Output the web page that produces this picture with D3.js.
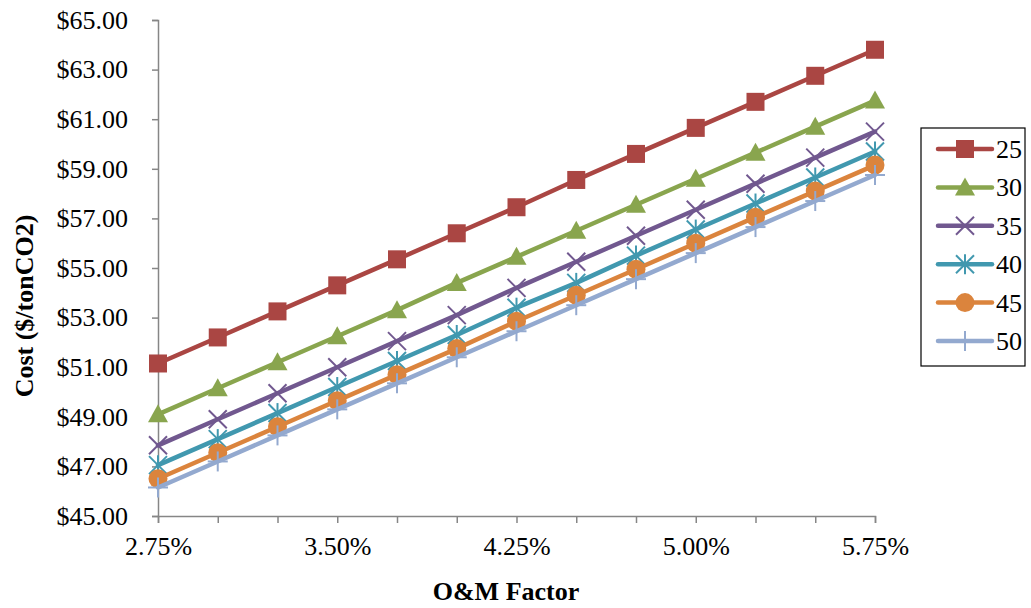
<!DOCTYPE html>
<html>
<head>
<meta charset="utf-8">
<script src="https://cdn.jsdelivr.net/npm/d3@7"></script>
<style>
  html, body { margin: 0; padding: 0; background: #fff; }
  svg { display: block; }
  text { font-family: "Liberation Serif", "Times New Roman", serif; fill: #000; }
</style>
</head>
<body>
<svg id="chart" width="1031" height="608"></svg>
<script>
// O&M factor (%) on the x axis
const omFactors = [2.75, 3.00, 3.25, 3.50, 3.75, 4.00, 4.25, 4.50, 4.75, 5.00, 5.25, 5.50, 5.75];
const xTickLabels = [2.75, 3.50, 4.25, 5.00, 5.75];
const yTicks = [45, 47, 49, 51, 53, 55, 57, 59, 61, 63, 65];

// Cost ($/tonCO2) for each series
const seriesNames = ["25", "30", "35", "40", "45", "50"];
const cost25 = [51.15, 52.20, 53.25, 54.30, 55.35, 56.40, 57.45, 58.55, 59.60, 60.65, 61.70, 62.75, 63.80];
const cost30 = [49.10, 50.15, 51.20, 52.25, 53.30, 54.40, 55.45, 56.50, 57.55, 58.60, 59.65, 60.70, 61.75];
const cost35 = [47.85, 48.90, 49.95, 51.00, 52.05, 53.10, 54.20, 55.25, 56.30, 57.35, 58.40, 59.45, 60.50];
const cost40 = [47.05, 48.10, 49.15, 50.20, 51.25, 52.30, 53.40, 54.40, 55.50, 56.55, 57.60, 58.65, 59.70];
const cost45 = [46.50, 47.55, 48.60, 49.65, 50.70, 51.75, 52.85, 53.90, 54.95, 56.00, 57.05, 58.10, 59.15];
const cost50 = [46.15, 47.20, 48.25, 49.30, 50.35, 51.40, 52.45, 53.50, 54.55, 55.60, 56.65, 57.70, 58.75];

const seriesValues = [cost25, cost30, cost35, cost40, cost45, cost50];
const seriesColors = ["#AA4643", "#89A54E", "#71588F", "#4198AF", "#DB843D", "#93A9CF"];
const seriesMarkers = ["square", "triangle", "cross", "asterisk", "circle", "plus"];

const svg = d3.select("#chart");
const plot = { left: 158, right: 875, top: 20, bottom: 516 };

const x = d3.scaleLinear().domain([2.75, 5.75]).range([plot.left, plot.right]);
const y = d3.scaleLinear().domain([45, 65]).range([plot.bottom, plot.top]);

const axisColor = "#868686";

// Y axis
const yAxis = svg.append("g")
  .attr("transform", `translate(${plot.left},0)`)
  .call(d3.axisLeft(y).tickValues(yTicks).tickSize(6).tickPadding(24)
    .tickFormat(d => "$" + d3.format(".2f")(d)));
yAxis.select(".domain").attr("stroke", axisColor).attr("stroke-width", 1.5);
yAxis.selectAll(".tick line").attr("stroke", axisColor).attr("stroke-width", 1.5);
yAxis.selectAll(".tick text")
  .attr("font-family", "Liberation Serif, serif").attr("font-size", 26).attr("fill", "#000");

// X axis: a tick at every category, a label every third
const xAxis = svg.append("g")
  .attr("transform", `translate(0,${plot.bottom})`)
  .call(d3.axisBottom(x).tickValues(omFactors).tickSize(7).tickPadding(14)
    .tickFormat(d => xTickLabels.includes(d) ? d3.format(".2f")(d) + "%" : ""));
xAxis.select(".domain").attr("stroke", axisColor).attr("stroke-width", 1.5);
xAxis.selectAll(".tick line").attr("stroke", axisColor).attr("stroke-width", 1.5);
xAxis.selectAll(".tick text")
  .attr("font-family", "Liberation Serif, serif").attr("font-size", 26).attr("fill", "#000");

// Axis titles
svg.append("text")
  .attr("x", 506).attr("y", 600)
  .attr("text-anchor", "middle")
  .attr("font-size", 26).attr("font-weight", "bold")
  .text("O&M Factor");

svg.append("text")
  .attr("transform", "translate(33,306) rotate(-90)")
  .attr("text-anchor", "middle")
  .attr("font-size", 26).attr("font-weight", "bold")
  .text("Cost ($/tonCO2)");

// Marker drawing
function drawMarker(g, type, color) {
  const s = 9;
  if (type === "square") {
    g.append("rect").attr("x", -s).attr("y", -s).attr("width", 2 * s).attr("height", 2 * s)
      .attr("fill", color);
  } else if (type === "triangle") {
    g.append("path").attr("d", `M0,${-s - 1}L${s + 1},${s - 1}L${-s - 1},${s - 1}Z`).attr("fill", color);
  } else if (type === "circle") {
    g.append("circle").attr("r", s + 0.5).attr("fill", color);
  } else {
    const lines = [];
    if (type === "cross" || type === "asterisk") {
      lines.push([-s, -s, s, s], [-s, s, s, -s]);
    }
    if (type === "asterisk") lines.push([0, -s - 1, 0, s + 1]);
    if (type === "plus") lines.push([0, -s - 1, 0, s + 1], [-s - 1, 0, s + 1, 0]);
    lines.forEach(l => g.append("line")
      .attr("x1", l[0]).attr("y1", l[1]).attr("x2", l[2]).attr("y2", l[3])
      .attr("stroke", color).attr("stroke-width", 2));
  }
}

const line = d3.line().x((d, i) => x(omFactors[i])).y(d => y(d));

seriesValues.forEach((vals, si) => {
  const g = svg.append("g");
  g.append("path")
    .attr("d", line(vals))
    .attr("fill", "none")
    .attr("stroke", seriesColors[si])
    .attr("stroke-width", 4.5)
    .attr("stroke-linejoin", "round")
    .attr("stroke-linecap", "round");
  vals.forEach((v, i) => {
    const mg = g.append("g").attr("transform", `translate(${x(omFactors[i])},${y(v)})`);
    drawMarker(mg, seriesMarkers[si], seriesColors[si]);
  });
});

// Legend
const legend = svg.append("g");
const legTop = 128, legLeft = 921, legStep = 38.4;
legend.append("rect")
  .attr("x", legLeft).attr("y", legTop)
  .attr("width", 104).attr("height", 238)
  .attr("fill", "#fff").attr("stroke", "#000").attr("stroke-width", 1.2);

seriesNames.forEach((name, si) => {
  const cy = legTop + 21 + si * legStep;
  legend.append("line")
    .attr("x1", 938).attr("x2", 992).attr("y1", cy).attr("y2", cy)
    .attr("stroke", seriesColors[si]).attr("stroke-width", 4.5)
    .attr("stroke-linecap", "round");
  const mg = legend.append("g").attr("transform", `translate(965,${cy})`);
  drawMarker(mg, seriesMarkers[si], seriesColors[si]);
  legend.append("text")
    .attr("x", 996).attr("y", cy + 9)
    .attr("font-size", 26)
    .text(name);
});
</script>
</body>
</html>
